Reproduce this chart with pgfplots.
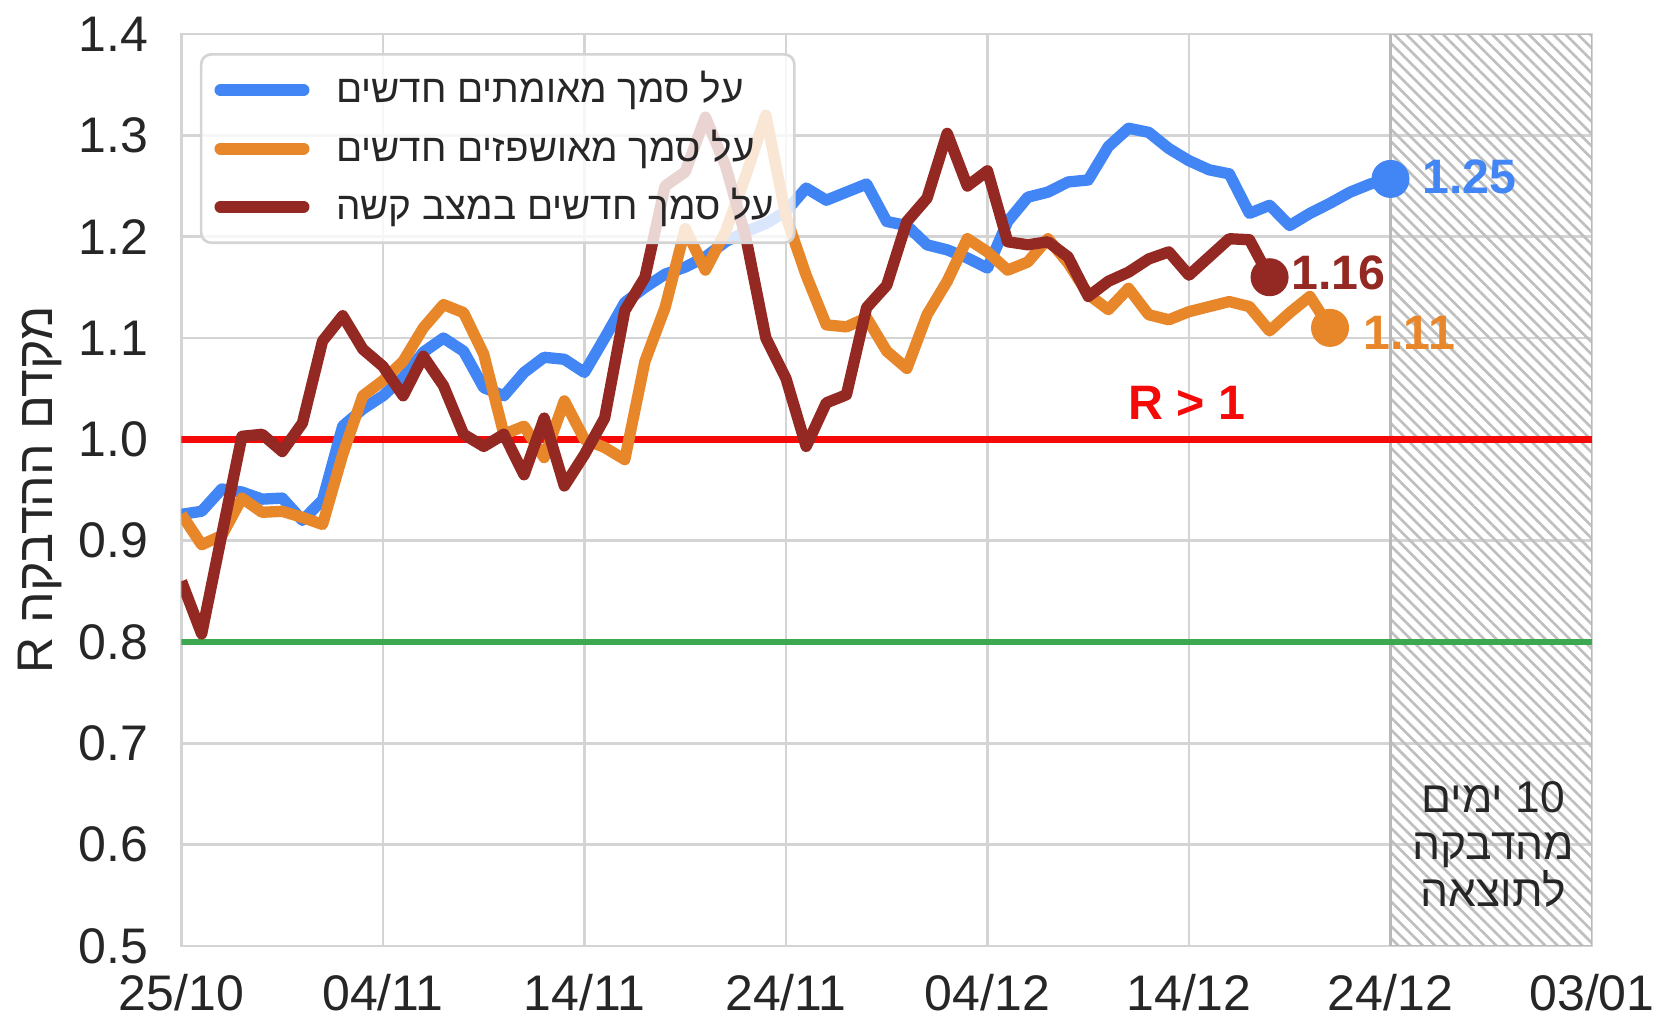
\documentclass[border=0pt]{standalone}
\usepackage{fontspec}
\setmainfont{Liberation Sans}
\newfontfamily\hebfont[Script=Hebrew]{Liberation Sans}
\TeXXeTstate=1
\usepackage{pgfplots}
\pgfplotsset{compat=1.18}
\usetikzlibrary{patterns.meta}

\definecolor{cblue}{RGB}{66,133,244}
\definecolor{corange}{RGB}{232,134,42}
\definecolor{cdred}{RGB}{148,40,34}
\definecolor{cgrid}{RGB}{212,212,212}
\definecolor{ctext}{RGB}{38,38,38}
\definecolor{cgreen}{RGB}{60,168,80}
\definecolor{cred}{RGB}{245,10,10}

\pgfplotstableread{
d v
0 0.926
1 0.929
2 0.951
3 0.948
4 0.941
5 0.942
6 0.920
7 0.940
8 1.013
9 1.030
10 1.043
11 1.061
12 1.086
13 1.100
14 1.087
15 1.051
16 1.043
17 1.066
18 1.081
19 1.079
20 1.066
21 1.100
22 1.135
23 1.150
24 1.163
25 1.170
26 1.180
27 1.195
28 1.205
29 1.213
30 1.225
31 1.248
32 1.236
33 1.244
34 1.252
35 1.215
36 1.211
37 1.192
38 1.187
39 1.179
40 1.169
41 1.215
42 1.239
43 1.244
44 1.254
45 1.256
46 1.289
47 1.307
48 1.303
49 1.287
50 1.275
51 1.266
52 1.262
53 1.223
54 1.231
55 1.211
56 1.223
57 1.233
58 1.244
59 1.252
60 1.257
}\bluedata

\pgfplotstableread{
d v
0 0.926
1 0.896
2 0.905
3 0.942
4 0.928
5 0.929
6 0.923
7 0.916
8 0.985
9 1.043
10 1.058
11 1.077
12 1.110
13 1.133
14 1.125
15 1.084
16 1.005
17 1.013
18 0.982
19 1.038
20 1.000
21 0.992
22 0.980
23 1.077
24 1.130
25 1.208
26 1.167
27 1.205
28 1.260
29 1.320
30 1.220
31 1.162
32 1.113
33 1.111
34 1.120
35 1.087
36 1.070
37 1.123
38 1.156
39 1.198
40 1.185
41 1.167
42 1.175
43 1.198
44 1.174
45 1.143
46 1.128
47 1.149
48 1.123
49 1.118
50 1.126
51 1.131
52 1.136
53 1.131
54 1.107
55 1.125
56 1.141
57 1.110
}\orangedata

\pgfplotstableread{
d v
0 0.860
1 0.808
2 0.906
3 1.003
4 1.005
5 0.988
6 1.016
7 1.097
8 1.122
9 1.089
10 1.072
11 1.043
12 1.082
13 1.053
14 1.005
15 0.993
16 1.005
17 0.965
18 1.021
19 0.954
20 0.985
21 1.021
22 1.127
23 1.160
24 1.250
25 1.264
26 1.318
27 1.270
28 1.200
29 1.100
30 1.060
31 0.993
32 1.036
33 1.044
34 1.130
35 1.152
36 1.215
37 1.238
38 1.302
39 1.250
40 1.265
41 1.195
42 1.192
43 1.195
44 1.180
45 1.141
46 1.156
47 1.165
48 1.178
49 1.185
50 1.162
51 1.180
52 1.198
53 1.197
54 1.160
}\reddata

\begin{document}
\begin{tikzpicture}
\useasboundingbox (-54.45pt,-21.6pt) rectangle (442.05pt,283.8pt);
\begin{axis}[
  at={(0,0)}, anchor=south west,
  scale only axis, width=423.15pt, height=273.6pt,
  xmin=0, xmax=70, ymin=0.5, ymax=1.4,
  xtick={0,10,20,30,40,50,60,70},
  xticklabels={25/10,04/11,14/11,24/11,04/12,14/12,24/12,03/01},
  ytick={0.5,0.6,0.7,0.8,0.9,1.0,1.1,1.2,1.3,1.4},
  /pgf/number format/fixed, /pgf/number format/fixed zerofill,
  /pgf/number format/precision=1, /pgf/number format/assume math mode=true,
  tick label style={font=\fontsize{15}{18}\selectfont, text=ctext},
  xticklabel style={yshift=-5pt},
  yticklabel style={xshift=-6.5pt},
  grid=major,
  major grid style={draw=cgrid, line width=0.75pt},
  axis line style={draw=cgrid, line width=0.8pt},
  tick style={draw=none},
  ylabel={\hebfont\beginR מקדם ההדבקה R\endR},
  ylabel style={at={(axis description cs:-0.1003,0.5)}, anchor=center, font=\fontsize{15}{18}\selectfont, text=ctext},
  legend style={at={(0,1)}, anchor=north west, xshift=5.5pt, yshift=-5.7pt,
    draw=cgrid, line width=0.8pt, rounded corners=3pt, fill=white, fill opacity=0.8, text opacity=1,
    inner xsep=4pt, inner ysep=4pt, row sep=4pt,
    font=\hebfont\fontsize{11.6}{13}\selectfont, text=ctext,
    nodes={inner ysep=1pt, text height=9.5pt, text depth=2pt}},
  legend cell align=left,
  legend image code/.code={\draw[#1, line width=3.6pt, line cap=round] (1.8pt,0pt) -- (26.7pt,0pt);},
  /tikz/every odd column/.append style={column sep=6pt},
]
\draw[draw=gray!55, line width=0.8pt, pattern={Lines[angle=-45, distance=2.6pt, line width=0.8pt]}, pattern color=gray!50]
  (axis cs:60,0.5) rectangle (axis cs:70,1.4);

\addplot[cred, line width=1.9pt, forget plot] coordinates {(0,1.0) (70,1.0)};
\addplot[cgreen, line width=1.9pt, forget plot] coordinates {(0,0.8) (70,0.8)};

\addplot[cblue, line width=3.4pt, line join=round] table[x=d, y=v] {\bluedata};
\addlegendentry{\beginR על סמך מאומתים חדשים\endR}
\addplot[corange, line width=3.4pt, line join=round] table[x=d, y=v] {\orangedata};
\addlegendentry{\beginR על סמך מאושפזים חדשים\endR}
\addplot[cdred, line width=3.4pt, line join=round] table[x=d, y=v] {\reddata};
\addlegendentry{\beginR על סמך חדשים במצב קשה\endR}

\addplot[only marks, mark=*, mark size=5.5pt, color=cblue, forget plot] coordinates {(60,1.257)};
\addplot[only marks, mark=*, mark size=5.5pt, color=corange, forget plot] coordinates {(57,1.110)};
\addplot[only marks, mark=*, mark size=5.5pt, color=cdred, forget plot] coordinates {(54,1.160)};

\node[anchor=west, xshift=6pt, text=cblue, font=\bfseries\fontsize{14.5}{16}\selectfont] at (axis cs:60,1.259) {1.25};
\node[anchor=west, xshift=3pt, text=cdred, font=\bfseries\fontsize{14.5}{16}\selectfont] at (axis cs:54,1.164) {1.16};
\node[anchor=west, xshift=6.5pt, text=corange, font=\bfseries\fontsize{14.5}{16}\selectfont] at (axis cs:57,1.105) {1.11};
\node[text=cred, font=\bfseries\fontsize{14.5}{16}\selectfont] at (axis cs:49.9,1.036) {R > 1};
\node[align=center, text=ctext, font=\hebfont\fontsize{13.3}{14}\selectfont] at (axis cs:65.1,0.60)
  {\beginR 10 ימים\endR\\\beginR מהדבקה\endR\\\beginR לתוצאה\endR};
\end{axis}
\end{tikzpicture}
\end{document}
